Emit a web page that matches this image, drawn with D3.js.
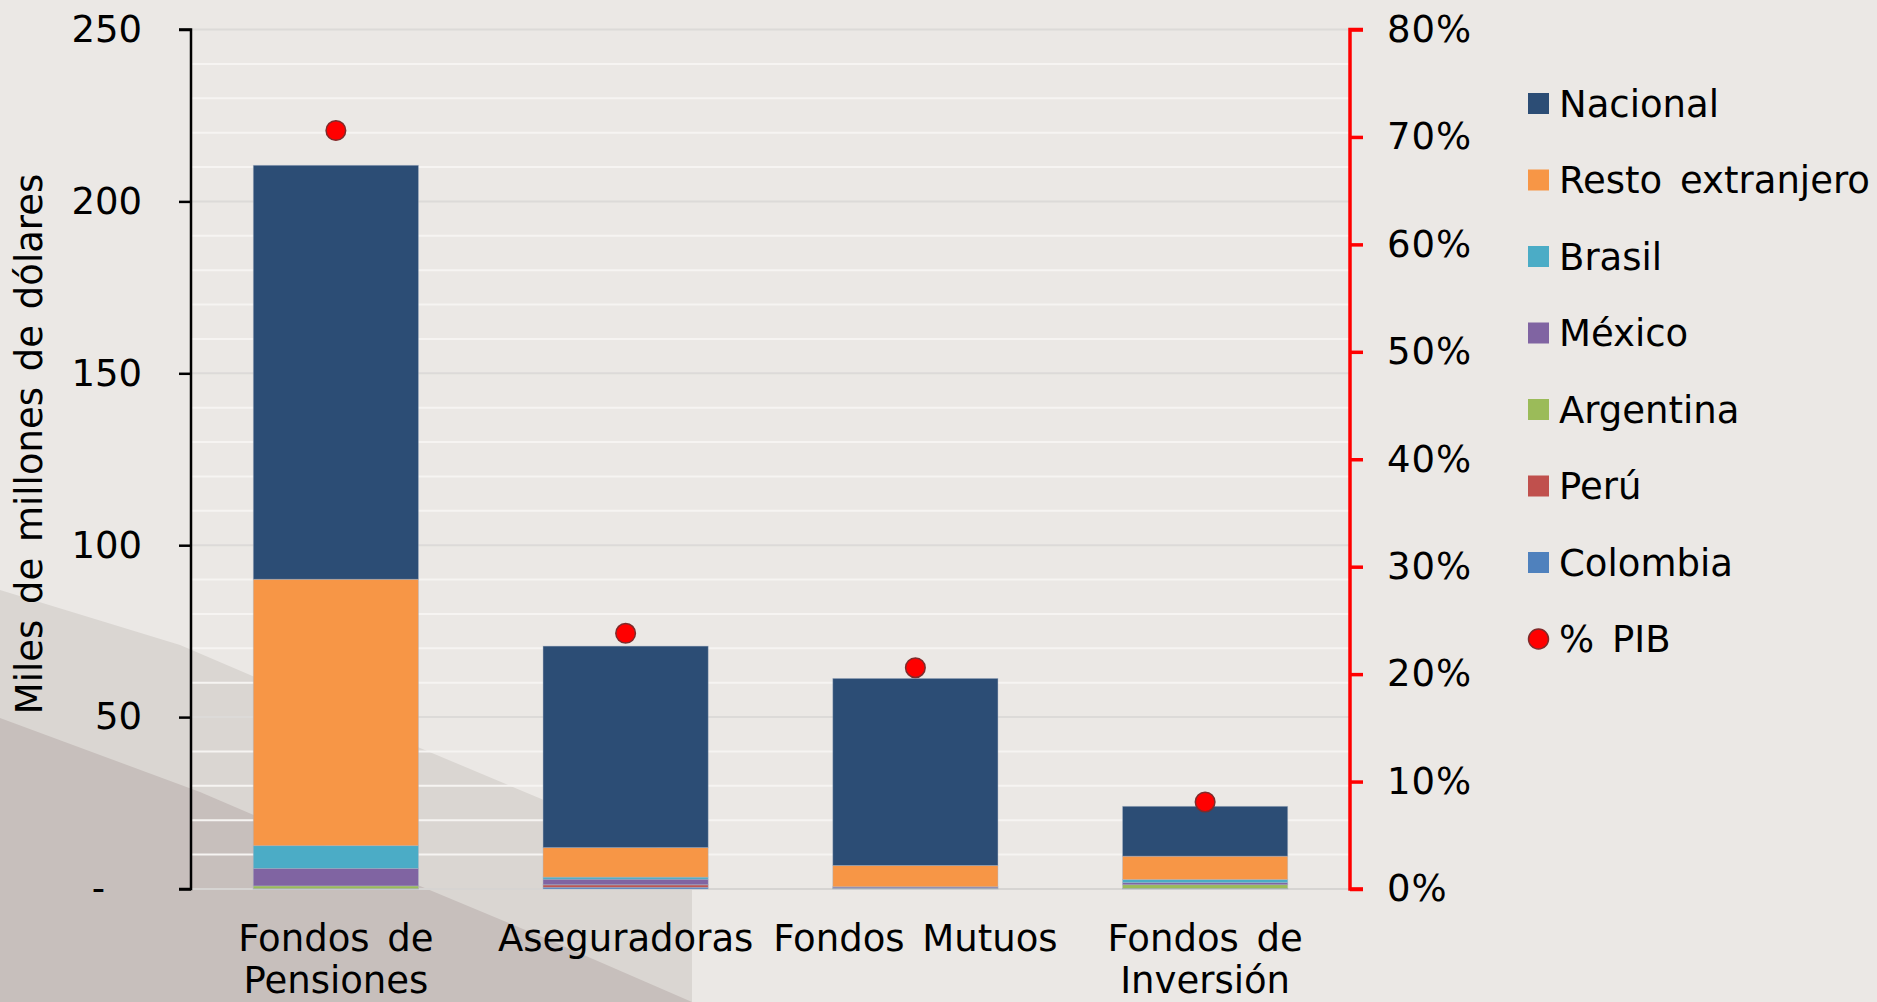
<!DOCTYPE html>
<html lang='es'>
<head>
<meta charset='UTF-8'>
<title>Inversionistas institucionales</title>
<script src='https://d3js.org/d3.v7.min.js'></script>
<style>
  body { margin: 0; overflow: hidden; background: #ebe8e5; }
  svg { display: block; font-family: 'DejaVu Sans', Verdana, sans-serif; }
</style>
</head>
<body>
<div id='chart'></div>
<script>
// categories and their two-line labels
const categories = ['Fondos de Pensiones', 'Aseguradoras', 'Fondos Mutuos', 'Fondos de Inversión'];
const categoryLines = [['Fondos de', 'Pensiones'], ['Aseguradoras'], ['Fondos Mutuos'], ['Fondos de', 'Inversión']];

// series in stacking order (bottom -> top), miles de millones de dólares
const colombia = [0.05, 0.5, 0.2, 0.1];
const peru = [0.05, 0.7, 0.05, 0.05];
const argentina = [0.8, 0.05, 0.05, 1.1];
const mexico = [5.1, 1.6, 0.3, 0.6];
const brasil = [6.6, 0.6, 0.05, 0.9];
const resto = [77.5, 8.6, 6.2, 6.8];
const nacional = [120.4, 58.6, 54.4, 14.5];

// % PIB (right axis)
const pib = [70.6, 23.8, 20.6, 8.1];

const leftTicks = [0, 50, 100, 150, 200, 250];
const rightTicks = [0, 10, 20, 30, 40, 50, 60, 70, 80];

const seriesNames = ['Colombia', 'Perú', 'Argentina', 'México', 'Brasil', 'Resto extranjero', 'Nacional'];
const seriesValues = [colombia, peru, argentina, mexico, brasil, resto, nacional];
const seriesColors = ['#4f81bd', '#c0504d', '#9bbb59', '#8064a2', '#4bacc6', '#f79646', '#2c4d75'];

const W = 1877, H = 1002;
const plot = { left: 191, right: 1350, top: 29.5, bottom: 889 };
const font = "'DejaVu Sans', Verdana, sans-serif";
const fs = 37;

const svg = d3.select('#chart').append('svg').attr('width', W).attr('height', H);

// background shading (lower-left photo-like wedge)
svg.append('rect').attr('width', W).attr('height', H).attr('fill', '#ebe8e5');
svg.append('path')
  .attr('d', 'M0,590 L180,645 L420,748 L692,862 L692,1002 L0,1002 Z')
  .attr('fill', '#dad6d2');
svg.append('path')
  .attr('d', 'M0,718 L200,792 L420,886 L540,936 L692,1002 L0,1002 Z')
  .attr('fill', '#c7bfbc');

const table = categories.map((c, i) => {
  const row = { cat: c };
  seriesNames.forEach((s, j) => row[s] = seriesValues[j][i]);
  return row;
});

const x = d3.scaleBand().domain(categories).range([plot.left, plot.right])
  .paddingInner(0.43).paddingOuter(0.215);
const y = d3.scaleLinear().domain([0, 250]).range([plot.bottom, plot.top]);
const y2 = d3.scaleLinear().domain([0, 80]).range([plot.bottom, plot.top]);

// gridlines every 10
const grid = d3.range(10, 251, 10);
svg.append('g').selectAll('line').data(grid).join('line')
  .attr('x1', plot.left).attr('x2', plot.right)
  .attr('y1', d => y(d)).attr('y2', d => y(d))
  .attr('stroke', d => d % 50 === 0 ? '#dcdad8' : '#f6f4f2')
  .attr('stroke-width', 2);
svg.append('line')
  .attr('x1', plot.left).attr('x2', plot.right)
  .attr('y1', y(0)).attr('y2', y(0))
  .attr('stroke', '#d6d4d2').attr('stroke-width', 2);

// stacked bars
const stacked = d3.stack().keys(seriesNames)(table);
const color = d3.scaleOrdinal().domain(seriesNames).range(seriesColors);

svg.append('g').selectAll('g').data(stacked).join('g')
  .attr('fill', d => color(d.key))
  .selectAll('rect').data(d => d).join('rect')
  .attr('x', d => x(d.data.cat))
  .attr('width', x.bandwidth())
  .attr('y', d => y(d[1]))
  .attr('height', d => Math.max(0, y(d[0]) - y(d[1])))
  .attr('stroke', '#a9b6c8')
  .attr('stroke-opacity', 0.5)
  .attr('stroke-width', 0.8);

// % PIB dots
svg.append('g').selectAll('circle').data(pib).join('circle')
  .attr('cx', (d, i) => x(categories[i]) + x.bandwidth() / 2)
  .attr('cy', d => y2(d))
  .attr('r', 9.8)
  .attr('fill', '#ff0000')
  .attr('stroke', '#7f2b2b')
  .attr('stroke-width', 1.5);

// left axis
const leftAxis = svg.append('g').attr('transform', `translate(${plot.left},0)`)
  .call(d3.axisLeft(y).tickValues(leftTicks).tickSize(12).tickPadding(37)
    .tickFormat(d => d === 0 ? '-' : d));
leftAxis.select('.domain').attr('stroke', '#000').attr('stroke-width', 2.5)
  .attr('d', `M-12,${y(250)}H0V${y(0)}H-12`);
leftAxis.selectAll('.tick line').attr('stroke', '#000').attr('stroke-width', 2.5);
leftAxis.selectAll('.tick text')
  .attr('font-family', font).attr('font-size', fs).attr('fill', '#000')
  .attr('dx', d => d === 0 ? -37 : 0);

// right axis (red)
const rightAxis = svg.append('g').attr('transform', `translate(${plot.right},0)`)
  .call(d3.axisRight(y2).tickValues(rightTicks).tickSize(13).tickPadding(24)
    .tickFormat(d => d + '%'));
rightAxis.select('.domain').attr('stroke', '#ff0000').attr('stroke-width', 3.5)
  .attr('d', `M13,${y2(80)}H0V${y2(0)}H13`);
rightAxis.selectAll('.tick line').attr('stroke', '#ff0000').attr('stroke-width', 3.5);
rightAxis.selectAll('.tick text')
  .attr('font-family', font).attr('font-size', fs).attr('fill', '#000')
  .attr('letter-spacing', 1);

// category labels
const catLabels = svg.append('g').attr('font-family', font).attr('font-size', fs)
  .attr('text-anchor', 'middle').attr('fill', '#000').attr('word-spacing', 6);
categories.forEach((c, i) => {
  const t = catLabels.append('text').attr('x', x(c) + x.bandwidth() / 2).attr('y', 951);
  categoryLines[i].forEach((line, k) => {
    t.append('tspan').attr('x', x(c) + x.bandwidth() / 2).attr('dy', k === 0 ? 0 : 42).text(line);
  });
});

// y-axis title
svg.append('text')
  .attr('transform', 'translate(42,444) rotate(-90)')
  .attr('text-anchor', 'middle')
  .attr('font-family', font).attr('font-size', fs).attr('fill', '#000')
  .attr('word-spacing', 4)
  .text('Miles de millones de dólares');

// legend
const legendItems = seriesNames.slice().reverse().map((name) => ({ name, color: color(name), type: 'rect' }));
legendItems.push({ name: '% PIB', color: '#ff0000', type: 'dot' });

const legend = svg.append('g').attr('transform', 'translate(1528,103.5)');
const li = legend.selectAll('g').data(legendItems).join('g')
  .attr('transform', (d, i) => `translate(0,${i * 76.5})`);
li.filter(d => d.type === 'rect').append('rect')
  .attr('x', 0).attr('y', -10.5).attr('width', 21).attr('height', 21)
  .attr('fill', d => d.color);
li.filter(d => d.type === 'dot').append('circle')
  .attr('cx', 10.5).attr('cy', 0).attr('r', 10)
  .attr('fill', '#ff0000').attr('stroke', '#7f2b2b').attr('stroke-width', 1.5);
li.append('text')
  .attr('x', 31).attr('y', 0).attr('dy', '0.36em')
  .attr('font-family', font).attr('font-size', fs).attr('fill', '#000')
  .attr('word-spacing', 6)
  .text(d => d.name);
</script>
</body>
</html>
